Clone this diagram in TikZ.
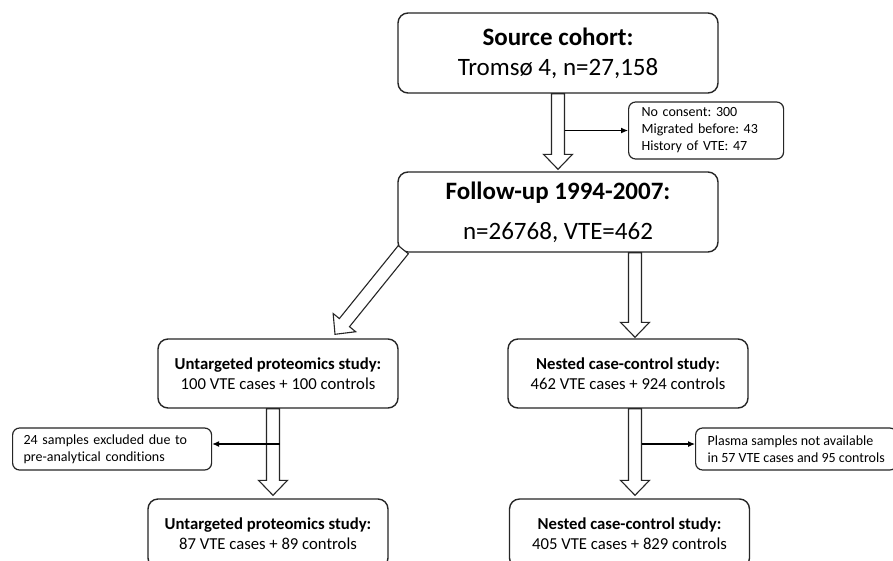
\documentclass[tikz,border=0pt]{standalone}
\usepackage{fontspec}
\setmainfont{Carlito}[Ligatures=NoCommon]
\frenchspacing
\usetikzlibrary{calc,arrows.meta}
\tikzset{
  mainbox/.style={draw=black!85, line width=1.4pt, rounded corners=10pt, align=center, inner sep=0pt},
  notebox/.style={draw=black!85, line width=1.2pt, rounded corners=7pt, align=left, inner ysep=0pt,
    font=\fontsize{14}{17}\selectfont\frenchspacing},
  blockarrow/.style={draw=black!85, line width=1.1pt, fill=white, line join=miter},
  sidearrow/.style={draw=black, line width=1.1pt, -{Latex[length=7pt,width=6pt]}},
  bigbold/.style={font=\fontsize{25}{30}\selectfont},
  midtext/.style={font=\fontsize{16.7}{20}\selectfont},
}
\newcommand\blkarrow[2]{%
  \draw[blockarrow]
    ($(#1)!6.5pt!90:(#2)$) --
    ($(#2)!15pt!(#1)!6.5pt!90:(#2)$) --
    ($(#2)!15pt!(#1)!14.5pt!90:(#2)$) --
    (#2) --
    ($(#2)!15pt!(#1)!14.5pt!-90:(#2)$) --
    ($(#2)!15pt!(#1)!6.5pt!-90:(#2)$) --
    ($(#1)!6.5pt!-90:(#2)$) -- cycle;}
\begin{document}
\begin{tikzpicture}[x=1pt,y=-1pt]
\useasboundingbox (0,0) rectangle (893,560);
\clip (0,0) rectangle (893,560);
\fill[white] (0,0) rectangle (893,560);

% main boxes
\node[mainbox, bigbold, minimum width=320pt, minimum height=80pt] (top) at (558,53)
  {\textbf{Source cohort:}\\Tromsø 4, n=27,158};
\node[mainbox, bigbold, minimum width=320pt, minimum height=80pt] (fu) at (558,212)
  {\textbf{Follow-up 1994-2007:}\\[10pt]n=26768, VTE=462};
\node[mainbox, midtext, minimum width=240pt, minimum height=69pt] (ml) at (278,373.5)
  {\textbf{Untargeted proteomics study:}\\100 VTE cases + 100 controls};
\node[mainbox, midtext, minimum width=240pt, minimum height=69pt] (mr) at (628,373.5)
  {\textbf{Nested case-control study:}\\462 VTE cases + 924 controls};
\node[mainbox, midtext, minimum width=240pt, minimum height=69pt] (bl) at (268,533.5)
  {\textbf{Untargeted proteomics study:}\\87 VTE cases + 89 controls};
\node[mainbox, midtext, minimum width=240pt, minimum height=69pt] (br) at (629.5,533.5)
  {\textbf{Nested case-control study:}\\405 VTE cases + 829 controls};

% note boxes
\node[notebox, anchor=west, inner xsep=13pt, text width=129pt, minimum height=57pt] (n1) at (628,130.5)
  {No consent: 300\\Migrated before: 43\\History of VTE: 47};
\node[notebox, anchor=west, inner xsep=11pt, text width=177pt, minimum height=42pt] (n2) at (12,449)
  {24 samples excluded due to\\pre-analytical conditions};
\node[notebox, anchor=west, inner xsep=12pt, minimum height=42pt] (n3) at (695,449)
  {Plasma samples not available\\in 57 VTE cases and 95 controls};

% block arrow end points
\coordinate (a1s) at (top.south);
\coordinate (a1e) at ($(fu.north)+(0,-2)$);
\coordinate (a2s) at ($(fu.south west)+(6,-3)$);
\coordinate (a2e) at ($(ml.north)+(57,-4)$);
\coordinate (a3s) at (fu.south -| 635,0);
\coordinate (a3e) at ($(mr.north -| 635,0)+(0,-1)$);
\coordinate (a4s) at (ml.south -| 273,0);
\coordinate (a4e) at ($(bl.north -| 273,0)+(0,-3)$);
\coordinate (a5s) at (mr.south -| 635,0);
\coordinate (a5e) at ($(br.north -| 635,0)+(0,-3)$);

\blkarrow{a1s}{a1e}
\blkarrow{a2s}{a2e}
\blkarrow{a3s}{a3e}
\blkarrow{a4s}{a4e}
\blkarrow{a5s}{a5e}

% side arrows
\coordinate (s1) at (n1.west -| 564.5,0);
\draw[sidearrow] (s1) -- (n1.west);
\coordinate (s2) at (279.5,444);
\coordinate (t2) at (n2.east |- 0,444);
\draw[sidearrow] (s2) -- (t2);
\coordinate (s3) at (641.5,444);
\coordinate (t3) at (n3.west |- 0,444);
\draw[sidearrow] (s3) -- (t3);
\end{tikzpicture}
\end{document}
